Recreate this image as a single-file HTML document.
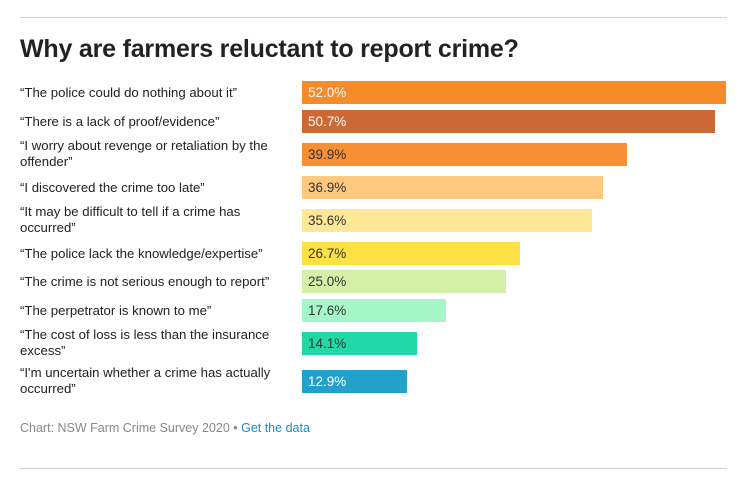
<!DOCTYPE html>
<html><head><meta charset="utf-8"><style>
body{margin:0;background:#fff;font-family:"Liberation Sans",sans-serif;}
#wrap{position:relative;width:754px;height:485px;overflow:hidden;}
.rule{position:absolute;left:20px;width:707px;height:1px;background:#d0d0d0;}
h1{position:absolute;left:20px;top:35px;margin:0;font-size:25px;font-weight:bold;color:#222;letter-spacing:-0.2px;}
.lab{position:absolute;left:20px;font-size:13.2px;line-height:16px;color:#222;white-space:pre;}
.bar{position:absolute;height:23px;}
.val{position:absolute;font-size:13.5px;line-height:23px;}
#foot{position:absolute;left:20px;top:421px;font-size:12.5px;color:#888;}
#foot a{color:#1f8ac8;text-decoration:none;}
</style></head><body>
<div id="wrap">
<div class="rule" style="top:17px"></div>
<h1>Why are farmers reluctant to report crime?</h1>
<div id="bars"></div>
<div id="foot">Chart: NSW Farm Crime Survey 2020 • <a href="#">Get the data</a></div>
<div class="rule" style="top:468px"></div>
</div>
<script>
const categories=["“The police could do nothing about it”","“There is a lack of proof/evidence”","“I worry about revenge or retaliation by the\noffender”","“I discovered the crime too late”","“It may be difficult to tell if a crime has\noccurred”","“The police lack the knowledge/expertise”","“The crime is not serious enough to report”","“The perpetrator is known to me”","“The cost of loss is less than the insurance\nexcess”","“I'm uncertain whether a crime has actually\noccurred”"];
const values=[52.0,50.7,39.9,36.9,35.6,26.7,25.0,17.6,14.1,12.9];
const colors=["#f68b27","#cb6833","#f98f34","#fec87e","#fee797","#fee144","#d4f0a8","#a6f7c8","#22d8a6","#23a1cb"];
const textColors=["#fff","#fff","#333","#333","#333","#333","#333","#333","#333","#fff"];
const tops=[81,110,143,176,209,242,270,299,332,370];
const x0=302, scale=424/52;
const xs=v=>v*scale;
const host=document.getElementById('bars');
categories.forEach((c,i)=>{
  const two=c.indexOf('\n')>=0;
  const l=document.createElement('div');
  
  
  l.className='lab';
  l.style.top=(two?tops[i]-5:tops[i]+4)+'px';
  l.textContent=c;
  host.appendChild(l);
  const b=document.createElement('div');
  
  
  b.className='bar';
  b.style.left=x0+'px';b.style.top=tops[i]+'px';
  b.style.width=xs(values[i])+'px';b.style.background=colors[i];
  host.appendChild(b);
  const t=document.createElement('div');
  
  
  t.className='val';
  t.style.left=(x0+6)+'px';t.style.top=tops[i]+'px';
  t.style.color=textColors[i];
  t.textContent=values[i].toFixed(1)+'%';
  host.appendChild(t);
});
</script>
</body></html>
